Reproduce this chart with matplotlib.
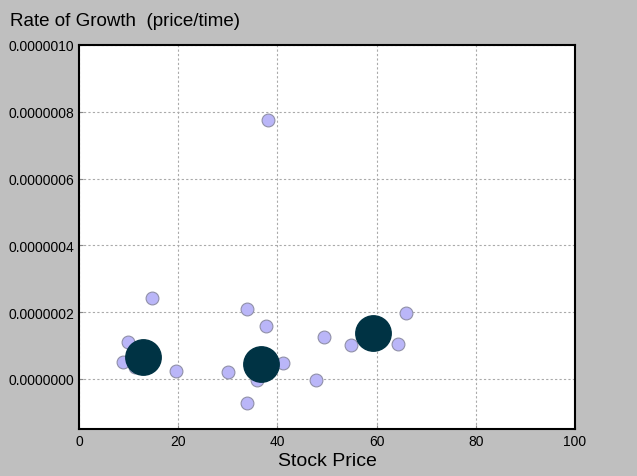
import matplotlib
matplotlib.use("Agg")
from matplotlib import pyplot as plt
from matplotlib.ticker import FormatStrFormatter

plt.rcParams['font.family'] = ['Liberation Sans', 'DejaVu Sans']

# stock price vs growth rate, small dots
price = [9.9, 8.9, 11.3, 14.7, 19.6, 30.0, 33.9, 33.9, 37.7, 35.9, 41.1,
         47.8, 49.4, 54.8, 64.3, 65.9, 38.1]
growth = [1.11e-7, 0.51e-7, 0.36e-7, 2.43e-7, 0.24e-7, 0.21e-7, 2.10e-7,
          -0.72e-7, 1.59e-7, -0.03e-7, 0.48e-7, -0.03e-7, 1.26e-7,
          1.02e-7, 1.05e-7, 1.98e-7, 7.75e-7]

# cluster centres, big dots
center_price = [12.9, 36.7, 59.3]
center_growth = [0.66e-7, 0.45e-7, 1.38e-7]

fig = plt.figure(figsize=(6.37, 4.77), dpi=100, facecolor='#bfbfbf')
ax = fig.add_axes([0.124, 0.0985, 0.7787, 0.8051])
ax.set_facecolor('white')

ax.scatter(price, growth, s=85, c='#bab6f8', edgecolors='#9090a8',
           linewidths=0.8, zorder=3)
ax.scatter(center_price, center_growth, s=650, c='#003344',
           edgecolors='#003344', zorder=4)

ax.set_xlim(0, 100)
ax.set_ylim(-1.5e-7, 1.0e-6)
ax.set_xticks([0, 20, 40, 60, 80, 100])
ax.set_yticks([0, 2e-7, 4e-7, 6e-7, 8e-7, 1e-6])
ax.yaxis.set_major_formatter(FormatStrFormatter('%.7f'))
ax.tick_params(direction='in', length=3, labelsize=10, color='#888888')
ax.grid(True, linestyle=(0, (2, 2)), color='#aaaaaa', linewidth=0.8)
ax.set_axisbelow(True)
for sp in ax.spines.values():
    sp.set_linewidth(1.5)

ax.set_xlabel('Stock Price', fontsize=14, labelpad=3)
fig.text(0.016, 0.955, 'Rate of Growth  (price/time)', fontsize=13.5,
         va='center', ha='left')

fig.savefig('out.png', dpi=100, facecolor=fig.get_facecolor())
